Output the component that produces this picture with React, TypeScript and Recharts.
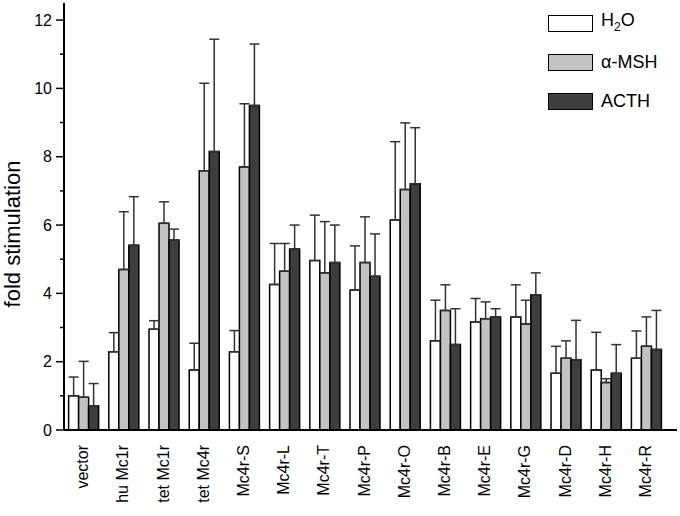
import React from 'react'
import { BarChart, Bar, XAxis, YAxis, ErrorBar, Legend, Label } from 'recharts'

const categories = ['vector', 'hu Mc1r', 'tet Mc1r', 'tet Mc4r', 'Mc4r-S', 'Mc4r-L', 'Mc4r-T', 'Mc4r-P', 'Mc4r-O', 'Mc4r-B', 'Mc4r-E', 'Mc4r-G', 'Mc4r-D', 'Mc4r-H', 'Mc4r-R']

const h2o = [1.0, 2.29, 2.95, 1.76, 2.29, 4.26, 4.96, 4.1, 6.15, 2.61, 3.16, 3.31, 1.66, 1.76, 2.1]
const h2oErr = [0.55, 0.56, 0.25, 0.78, 0.62, 1.2, 1.33, 1.29, 2.29, 1.19, 0.69, 0.94, 0.79, 1.1, 0.8]

const msh = [0.96, 4.7, 6.05, 7.59, 7.7, 4.65, 4.6, 4.9, 7.04, 3.5, 3.26, 3.1, 2.1, 1.39, 2.45]
const mshErr = [1.05, 1.69, 0.63, 2.56, 1.85, 0.81, 1.5, 1.34, 1.95, 0.75, 0.49, 0.7, 0.51, 0.11, 0.86]

const acth = [0.71, 5.41, 5.56, 8.15, 9.5, 5.3, 4.9, 4.5, 7.21, 2.5, 3.31, 3.96, 2.06, 1.66, 2.36]
const acthErr = [0.65, 1.42, 0.32, 3.29, 1.8, 0.7, 1.1, 1.24, 1.64, 1.05, 0.24, 0.64, 1.15, 0.84, 1.14]

const yTicks = [0, 1, 2, 3, 4, 5, 6, 7, 8, 9, 10, 11, 12]

const font = 'Liberation Sans, Arial, sans-serif'

const data = categories.map((name, i) => ({
  name,
  h2o: h2o[i],
  h2oErr: [0, h2oErr[i]],
  msh: msh[i],
  mshErr: [0, mshErr[i]],
  acth: acth[i],
  acthErr: [0, acthErr[i]],
}))

const legendRows = [
  { fill: '#ffffff', label: <span>H<sub style={{ fontSize: 12, verticalAlign: '-5px' }}>2</sub>O</span> },
  { fill: '#c2c2c2', label: <span>α-MSH</span> },
  { fill: '#3e3e3e', label: <span>ACTH</span> },
]

function LegendBox() {
  return (
    <div style={{ fontFamily: font, fontSize: 18, color: '#000' }}>
      {legendRows.map((r, i) => (
        <div key={i} style={{ display: 'flex', alignItems: 'center', height: 17, marginBottom: i < 2 ? 22 : 0 }}>
          <div style={{ width: 45, height: 17, border: '1.5px solid #000', background: r.fill, boxSizing: 'border-box' }} />
          <span style={{ marginLeft: 8, lineHeight: '17px' }}>{r.label}</span>
        </div>
      ))}
    </div>
  )
}

function YTick(props: any) {
  const { x, y, payload } = props
  const major = payload.value % 2 === 0
  return (
    <g>
      <line x1={x - (major ? 8 : 4)} x2={x} y1={y} y2={y} stroke="#000" strokeWidth={1.5} />
      {major ? (
        <text x={x - 12} y={y} dy="0.36em" textAnchor="end" fontSize={16} fontFamily={font} fill="#000">
          {payload.value}
        </text>
      ) : null}
    </g>
  )
}

function XTick(props: any) {
  const { x, y, payload } = props
  const tx = x + 4
  const ty = y + 15
  return (
    <text x={tx} y={ty} transform={`rotate(-90, ${tx}, ${ty})`} textAnchor="end" fontSize={16} fontFamily={font} fill="#000">
      {payload.value}
    </text>
  )
}

export default function App() {
  return (
    <div style={{ position: 'absolute', left: 0, top: 0, width: 680, height: 516, background: '#fff' }}>
      <BarChart width={680} height={516} data={data} margin={{ top: 3, right: 3, bottom: 0, left: 0 }} barGap={0} barCategoryGap="11.5%">
        <XAxis dataKey="name" height={86} tickSize={0} tickMargin={0} tickLine={false} axisLine={{ stroke: '#000', strokeWidth: 2 }} padding={{ left: 0, right: 10 }} interval={0} tick={(p: any) => <XTick {...p} />} />
        <YAxis width={64} domain={[0, 12.5]} ticks={yTicks} interval={0} tickSize={0} tickMargin={0} tickLine={false} axisLine={{ stroke: '#000', strokeWidth: 2 }} tick={(p: any) => <YTick {...p} />}>
          <Label content={() => (
            <text x={20} y={234} transform="rotate(-90, 20, 234)" textAnchor="middle" fontSize={22} fontFamily={font} fill="#000">
              fold stimulation
            </text>
          )} />
        </YAxis>
        <Legend layout="vertical" align="center" verticalAlign="middle" wrapperStyle={{ left: 548, top: 15, width: 130 }} content={() => <LegendBox />} />
        <Bar dataKey="h2o" fill="#ffffff" stroke="#000" strokeWidth={1.5} isAnimationActive={false}>
          <ErrorBar dataKey="h2oErr" width={5} stroke="#333" strokeWidth={1.5} direction="y" isAnimationActive={false} />
        </Bar>
        <Bar dataKey="msh" fill="#c2c2c2" stroke="#000" strokeWidth={1.5} isAnimationActive={false}>
          <ErrorBar dataKey="mshErr" width={5} stroke="#333" strokeWidth={1.5} direction="y" isAnimationActive={false} />
        </Bar>
        <Bar dataKey="acth" fill="#3e3e3e" stroke="#000" strokeWidth={1.5} isAnimationActive={false}>
          <ErrorBar dataKey="acthErr" width={5} stroke="#333" strokeWidth={1.5} direction="y" isAnimationActive={false} />
        </Bar>
      </BarChart>
    </div>
  )
}
